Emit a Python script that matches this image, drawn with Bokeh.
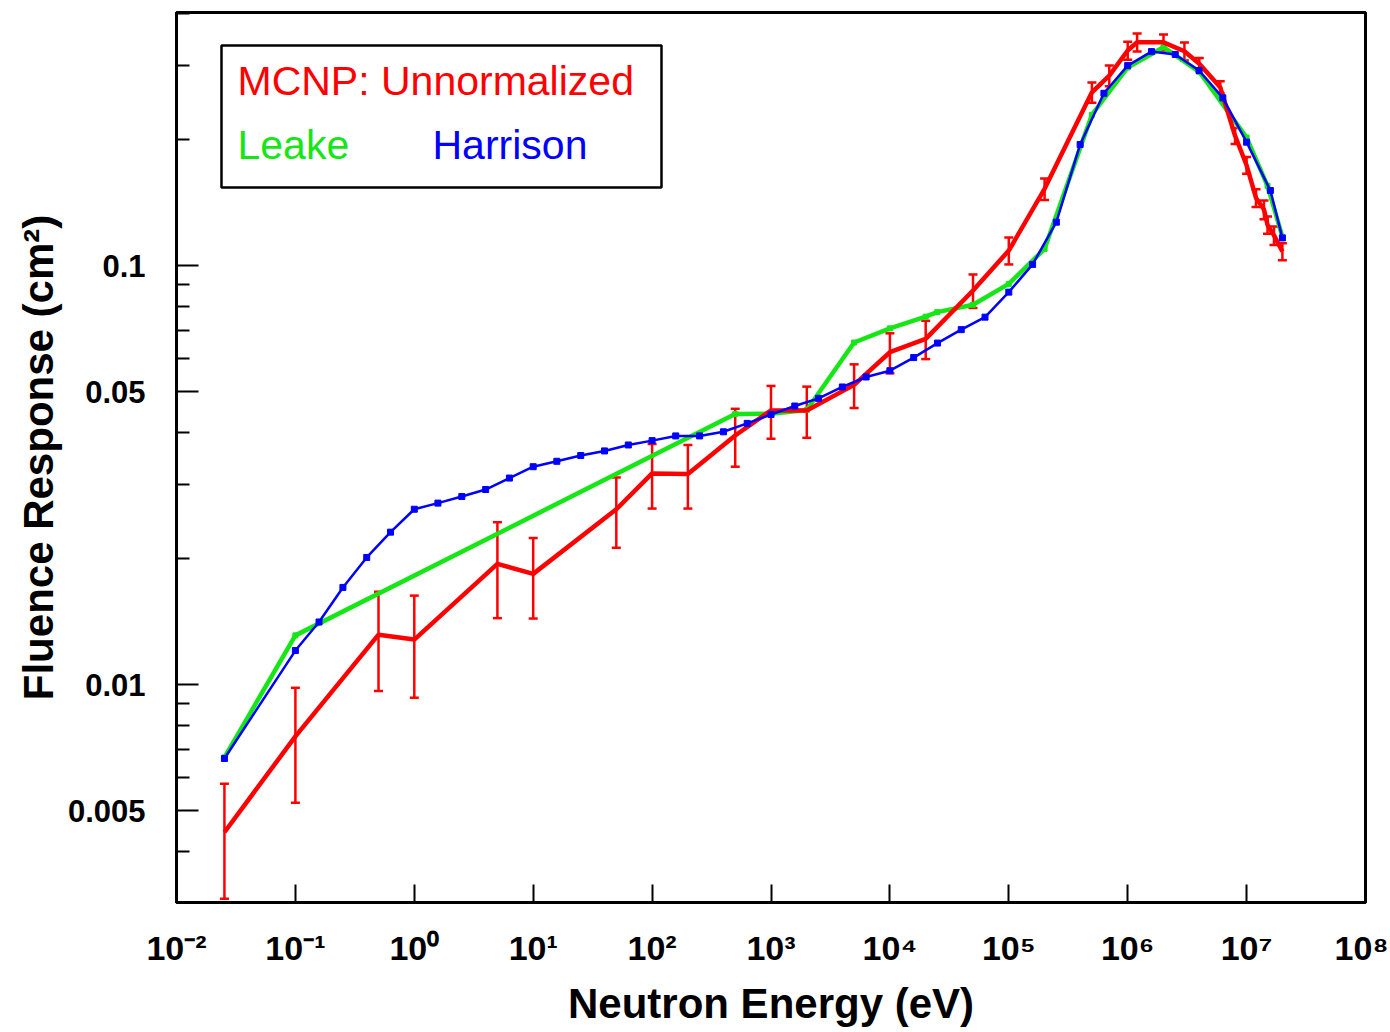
from bokeh.plotting import figure
from bokeh.models import (Range1d, FixedTicker, CustomJSTickFormatter, ColumnDataSource,
                          Whisker, TeeHead, Label, BoxAnnotation)
from bokeh.embed import file_html
from bokeh.resources import INLINE

# ---------------- data ----------------
mcnp_energy = [0.0253, 0.1, 0.5, 1, 5, 10, 50, 100, 200, 500, 1000, 2000, 5000,
               1e4, 2e4, 5e4, 1e5, 2e5, 5e5, 7e5, 1e6, 1.2e6, 2e6, 3e6, 4e6,
               6e6, 8e6, 1e7, 1.2e7, 1.4e7, 1.5e7, 1.7e7, 2e7]
mcnp_response = [0.00444, 0.00752, 0.01315, 0.0128, 0.0194, 0.01837, 0.0262, 0.0319,
                 0.0318, 0.0393, 0.0451, 0.0451, 0.0519, 0.0621, 0.0668, 0.0872,
                 0.1086, 0.1524, 0.259, 0.284, 0.326, 0.341, 0.341, 0.3246, 0.303,
                 0.2664, 0.204, 0.1735, 0.145, 0.136, 0.125, 0.118, 0.108]
mcnp_error = [0.00136, 0.0023, 0.0035, 0.0035, 0.005, 0.004, 0.005, 0.0056,
              0.0055, 0.0062, 0.0065, 0.0063, 0.0062, 0.0068, 0.007, 0.008,
              0.008, 0.009, 0.0145, 0.016, 0.016, 0.017, 0.015, 0.016, 0.01,
              0.009, 0.009, 0.008, 0.007, 0.007, 0.006, 0.006, 0.005]

leake_energy = [0.0253, 0.1, 500, 1000, 2000, 5000, 1e4, 2e4, 2.5e4, 5e4, 1e5,
                2e5, 5e5, 1e6, 2e6, 4e6, 1e7, 1.5e7, 2e7]
leake_response = [0.0067, 0.0131, 0.0442, 0.0443, 0.0452, 0.0655, 0.0708, 0.0755,
                  0.0774, 0.0806, 0.0904, 0.1096, 0.229, 0.297, 0.332, 0.29,
                  0.202, 0.155, 0.117]

harrison_energy = [0.0253, 0.1, 0.158, 0.251, 0.398, 0.631, 1, 1.58, 2.51, 3.98,
                   6.31, 10, 15.8, 25.1, 39.8, 63.1, 100, 158, 251, 398, 631,
                   1000, 1585, 2512, 3981, 6310, 1e4, 15849, 25119, 39811, 63096,
                   1e5, 158489, 251189, 398107, 630957, 1e6, 1.585e6, 2.512e6,
                   3.981e6, 6.31e6, 1e7, 1.585e7, 2e7]
harrison_response = [0.00666, 0.01205, 0.0141, 0.01705, 0.0201, 0.0231, 0.0262,
                     0.0271, 0.0281, 0.0292, 0.0311, 0.0331, 0.0341, 0.0352,
                     0.0361, 0.0373, 0.0382, 0.0392, 0.0392, 0.0401, 0.0420,
                     0.0441, 0.0462, 0.0482, 0.0513, 0.0542, 0.0561, 0.0603,
                     0.0653, 0.0703, 0.0753, 0.0864, 0.1006, 0.1269, 0.1945,
                     0.2577, 0.300, 0.324, 0.319, 0.292, 0.2513, 0.197, 0.151,
                     0.1164]

x_tick_values = [1e-2, 1e-1, 1e0, 1e1, 1e2, 1e3, 1e4, 1e5, 1e6, 1e7, 1e8]
y_tick_values = [0.005, 0.01, 0.05, 0.1]
y_minor_values = [0.003, 0.004, 0.006, 0.007, 0.008, 0.009, 0.02, 0.03, 0.04,
                  0.06, 0.07, 0.08, 0.09, 0.2, 0.3, 0.4]

x_title = "Neutron Energy (eV)"
y_title = "Fluence Response (cm\u00b2)"
legend_mcnp = "MCNP: Unnormalized"
legend_leake = "Leake"
legend_harrison = "Harrison"

RED = "#ff0000"
GREEN = "#16e616"
BLUE = "#0000ff"
FONT = "Liberation Sans"

# ---------------- figure ----------------
p = figure(width=1388, height=1030, x_axis_type="log", y_axis_type="log",
           x_range=Range1d(1e-2, 1e8), y_range=Range1d(0.003018, 0.4017),
           output_backend="svg", toolbar_location=None,
           min_border_left=176, min_border_right=23, min_border_top=12,
           min_border_bottom=128)
p.background_fill_color = "white"
p.border_fill_color = "white"
p.outline_line_color = "black"
p.outline_line_width = 3
p.outline_line_alpha = 1.0
p.xgrid.visible = False
p.ygrid.visible = False

# x axis
xa = p.xaxis[0]
xa.ticker = FixedTicker(ticks=x_tick_values, minor_ticks=[])
xa.formatter = CustomJSTickFormatter(code="""
const sup = {"-":"\\u207b","0":"\\u2070","1":"\\u00b9","2":"\\u00b2","3":"\\u00b3",
             "4":"\\u2074","5":"\\u2075","6":"\\u2076","7":"\\u2077","8":"\\u2078","9":"\\u2079"};
const e = Math.round(Math.log10(tick));
return "10" + String(e).split("").map(c => sup[c]).join("");
""")
xa.axis_line_width = 3
xa.axis_line_color = "black"
xa.major_tick_in = 18
xa.major_tick_out = 0
xa.major_tick_line_width = 2
xa.major_tick_line_color = "black"
xa.minor_tick_in = 0
xa.minor_tick_out = 0
xa.major_label_text_font = FONT
xa.major_label_text_font_style = "bold"
xa.major_label_text_font_size = "34px"
xa.major_label_text_color = "black"
xa.major_label_standoff = 26
xa.axis_label = x_title
xa.axis_label_text_font = FONT
xa.axis_label_text_font_style = "bold"
xa.axis_label_text_font_size = "42px"
xa.axis_label_text_color = "black"
xa.axis_label_standoff = 10

# y axis
ya = p.yaxis[0]
ya.ticker = FixedTicker(ticks=y_tick_values, minor_ticks=y_minor_values)
ya.formatter = CustomJSTickFormatter(code="return String(tick);")
ya.axis_line_width = 3
ya.axis_line_color = "black"
ya.major_tick_in = 22
ya.major_tick_out = 0
ya.major_tick_line_width = 2
ya.major_tick_line_color = "black"
ya.minor_tick_in = 13
ya.minor_tick_out = 0
ya.minor_tick_line_width = 2
ya.minor_tick_line_color = "black"
ya.major_label_text_font = FONT
ya.major_label_text_font_style = "bold"
ya.major_label_text_font_size = "31px"
ya.major_label_text_color = "black"
ya.major_label_standoff = 31
ya.axis_label = y_title
ya.axis_label_text_font = FONT
ya.axis_label_text_font_style = "bold"
ya.axis_label_text_font_size = "42px"
ya.axis_label_text_color = "black"
ya.axis_label_standoff = 3

# ---------------- series ----------------
leake_src = ColumnDataSource(dict(x=leake_energy, y=leake_response))
p.line("x", "y", source=leake_src, line_color=GREEN, line_width=4.5)
p.scatter("x", "y", source=leake_src, marker="square", size=5, color=GREEN)

upper = [r + e for r, e in zip(mcnp_response, mcnp_error)]
lower = [r - e for r, e in zip(mcnp_response, mcnp_error)]
mcnp_src = ColumnDataSource(dict(x=mcnp_energy, y=mcnp_response, upper=upper, lower=lower))
p.line("x", "y", source=mcnp_src, line_color=RED, line_width=4.5)
p.add_layout(Whisker(base="x", upper="upper", lower="lower", source=mcnp_src,
                     dimension="height", line_color=RED, line_width=2.5,
                     upper_head=TeeHead(size=9, line_color=RED, line_width=2.5),
                     lower_head=TeeHead(size=9, line_color=RED, line_width=2.5)))

harr_src = ColumnDataSource(dict(x=harrison_energy, y=harrison_response))
p.line("x", "y", source=harr_src, line_color=BLUE, line_width=2.5)
p.scatter("x", "y", source=harr_src, marker="square", size=6, color=BLUE)

# ---------------- legend box ----------------
p.add_layout(BoxAnnotation(left=45, right=485, top=857, bottom=715,
                           left_units="screen", right_units="screen",
                           top_units="screen", bottom_units="screen",
                           fill_color="white", fill_alpha=1.0,
                           line_color="black", line_alpha=1.0, line_width=2.5,
                           level="overlay"))
for txt, col, lx, ly in [(legend_mcnp, RED, 61, 822),
                         (legend_leake, GREEN, 61, 758),
                         (legend_harrison, BLUE, 256, 758)]:
    p.add_layout(Label(x=lx, y=ly, x_units="screen", y_units="screen", text=txt,
                       text_color=col, text_font=FONT, text_font_size="41px",
                       text_baseline="alphabetic", level="overlay"))

open("out.html", "w", encoding="utf-8").write(file_html(p, INLINE))
